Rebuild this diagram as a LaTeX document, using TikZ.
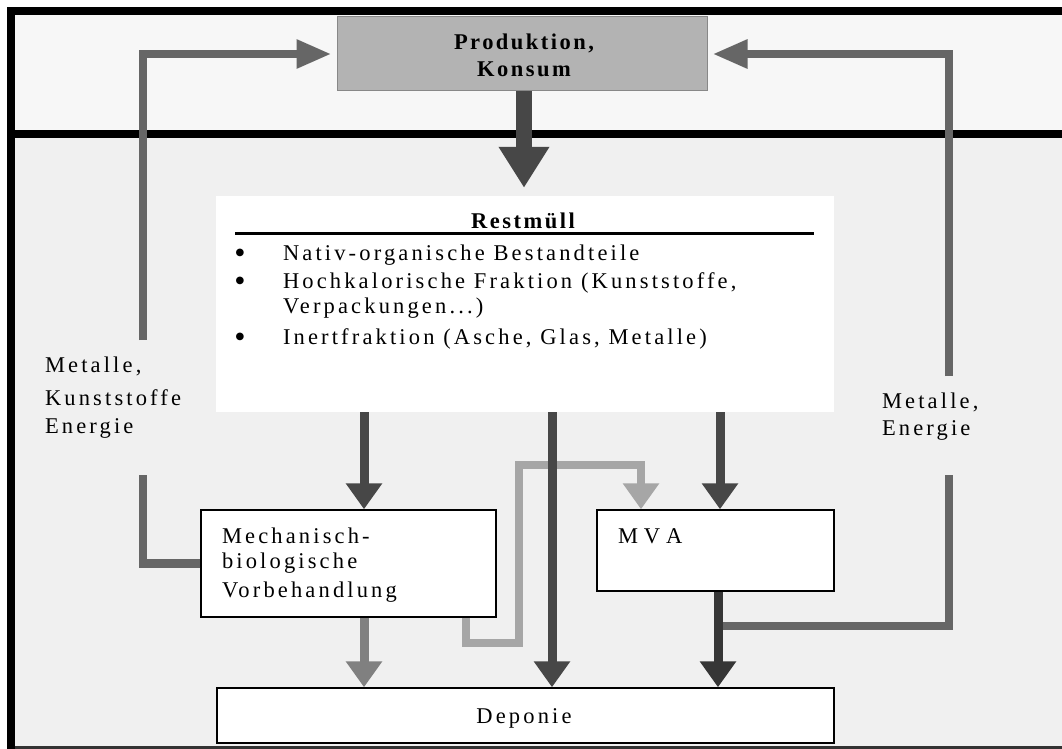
\documentclass[tikz,border=0pt]{standalone}
\usepackage{fontspec}
\setmainfont{Liberation Serif}[LetterSpace=14]
\newfontfamily\symfont{DejaVu Sans}
\usetikzlibrary{arrows.meta}

\definecolor{bandtop}{HTML}{F7F7F7}
\definecolor{bandlow}{HTML}{F0F0F0}
\definecolor{prodfill}{HTML}{B3B3B3}
\definecolor{prodline}{HTML}{888888}
\definecolor{flowdark}{HTML}{474747}
\definecolor{flowdarker}{HTML}{363636}
\definecolor{flowmid}{HTML}{808080}
\definecolor{flowlight}{HTML}{A6A6A6}
\definecolor{recycle}{HTML}{666666}

\tikzset{
  txt/.style={inner sep=0pt, outer sep=0pt, font=\fontsize{22.5}{26}\selectfont},
  boldtxt/.style={txt, font=\fontsize{22.5}{26}\selectfont\bfseries\addfontfeatures{LetterSpace=11}},
  bullet/.style={inner sep=0pt, outer sep=0pt, font=\symfont\fontsize{10}{10}\selectfont},
  box/.style={draw=black, line width=1.5pt, fill=white, inner sep=0pt},
  prodbox/.style={draw=prodline, line width=1pt, fill=prodfill, inner sep=0pt},
  vtip/.style={-{Triangle[width=35pt,length=26pt]}},
  htip/.style={-{Triangle[width=27pt,length=35pt]}},
  flow/.style={line width=9pt, vtip},
  recyc/.style={line width=8.5pt, draw=recycle, line join=miter},
}

\begin{document}
\begin{tikzpicture}[x=1pt, y=-1pt]
\useasboundingbox (0,0) rectangle (1062,749);

% background bands and frame
\fill[bandtop] (11,11) rectangle (1062,134);
\fill[bandlow] (11,134) rectangle (1062,747);
\draw[line width=8pt, line join=miter] (1062,11) -- (11,11) -- (11,749);
\draw[line width=8pt] (15,134) -- (1062,134);
\draw[line width=3pt, draw=black!80] (15,747.5) -- (1062,747.5);

% boxes
\node[prodbox, minimum width=370pt, minimum height=74pt] (prod) at (522,54) {};
\node[boldtxt, anchor=base] (prod1) at (524,50) {Produktion,};
\node[boldtxt, anchor=base] (prod2) at (524,77) {Konsum};

\node[fill=white, inner sep=0pt, minimum width=618pt, minimum height=216pt] (rest) at (525,304) {};
\node[boldtxt, anchor=base] (resttitle) at (523,228) {Restmüll};
\draw[line width=3pt] (235,233) -- (814,233);
\node[bullet, anchor=base] (b1) at (240,255.5) {●};
\node[bullet, anchor=base] (b2) at (240,283.5) {●};
\node[bullet, anchor=base] (b3) at (240,339.5) {●};
\node[txt, anchor=base west] (r1) at (283,260) {Nativ-organische Bestandteile};
\node[txt, anchor=base west] (r2) at (283,288) {Hochkalorische Fraktion (Kunststoffe,};
\node[txt, anchor=base west] (r3) at (283,313) {Verpackungen...)};
\node[txt, anchor=base west] (r4) at (283,344) {Inertfraktion (Asche, Glas, Metalle)};

\node[box, minimum width=295pt, minimum height=107pt] (mbv) at (348.5,563.5) {};
\node[txt, anchor=base west] (m1) at (222,543) {Mechanisch-};
\node[txt, anchor=base west] (m2) at (222,568) {biologische};
\node[txt, anchor=base west] (m3) at (222,597) {Vorbehandlung};

\node[box, minimum width=237pt, minimum height=81pt] (mva) at (715.5,550.5) {};
\node[txt, anchor=base west] (mvat) at (618,543) {M\kern6pt V\kern6pt A};

\node[box, minimum width=617pt, minimum height=55pt] (dep) at (525.5,715.5) {};
\node[txt, anchor=base] (dept) at (524,723) {Deponie};

% side labels
\node[txt, anchor=base west] (ll1) at (45,372) {Metalle,};
\node[txt, anchor=base west] (ll2) at (45,405) {Kunststoffe};
\node[txt, anchor=base west] (ll3) at (45,433) {Energie};
\node[txt, anchor=base west] (rl1) at (882,408) {Metalle,};
\node[txt, anchor=base west] (rl2) at (882,435) {Energie};

% columns and bend points
\coordinate (cP) at (524,0);
\coordinate (cA) at (364,0);
\coordinate (cB) at (552,0);
\coordinate (cC) at (720,0);
\coordinate (cD) at (718,0);
\coordinate (cL) at (143,0);
\coordinate (cR) at (949,0);
\coordinate (lg1) at (466,643);
\coordinate (lg2) at (519,643);
\coordinate (lg3) at (519,465);
\coordinate (lg4) at (641,465);
\coordinate (lLowTop) at (143,475);
\coordinate (lUpBot) at (143,340);
\coordinate (rJoin) at (949,626);
\coordinate (rLowTop) at (949,475);
\coordinate (rUpBot) at (949,376);

% production to residual waste
\draw[line width=16pt, draw=flowdark, -{Triangle[width=48pt,length=41pt]}, shorten >=8pt]
  (prod.south -| cP) -- (rest.north -| cP);

% recycling returns
\draw[recyc] (mbv.west) -- (cL |- mbv.west) -- (lLowTop);
\draw[recyc, htip, shorten >=5pt] (lUpBot) -- (cL |- prod.west) -- (prod.west);
\draw[recyc] (cD |- rJoin) -- (rJoin) -- (rLowTop);
\draw[recyc, htip, shorten >=5pt] (rUpBot) -- (cR |- prod.east) -- (prod.east);

% light fraction from MBV to MVA
\draw[flow, line width=8pt, draw=flowlight, line join=miter]
  (mbv.south -| lg1) -- (lg1) -- (lg2) -- (lg3) -- (lg4) -- (mva.north -| lg4);

% main flows
\draw[flow, draw=flowdark] (rest.south -| cA) -- (mbv.north -| cA);
\draw[flow, draw=flowdark] (rest.south -| cB) -- (dep.north -| cB);
\draw[flow, draw=flowdark] (rest.south -| cC) -- (mva.north -| cC);
\draw[flow, draw=flowmid] (mbv.south -| cA) -- (dep.north -| cA);
\draw[flow, draw=flowdarker] (mva.south -| cD) -- (dep.north -| cD);
\end{tikzpicture}
\end{document}
